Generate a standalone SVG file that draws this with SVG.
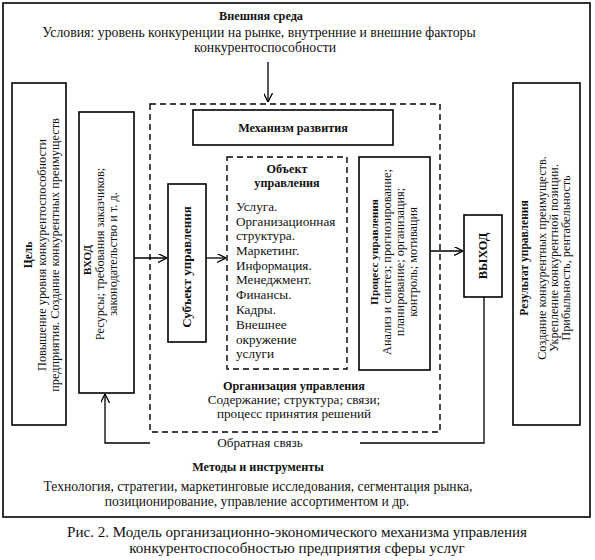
<svg xmlns="http://www.w3.org/2000/svg" width="595" height="560" viewBox="0 0 595 560">
<defs>
<marker id="arr" viewBox="0 0 10 10" refX="10" refY="5" markerWidth="9" markerHeight="9" orient="auto" markerUnits="userSpaceOnUse">
<path d="M0,0 L10,5 L0,10" fill="none" stroke="#000" stroke-width="1.4"/>
</marker>
<style>
text{font-family:'Liberation Serif','Times New Roman',serif;font-size:13.2px;fill:#111}
.b{font-weight:bold;font-size:12.2px}
.c{text-anchor:middle}
.box{fill:#fff;stroke:#000;stroke-width:1.6}
.dash{fill:none;stroke:#000;stroke-width:1.4;stroke-dasharray:6,4}
.ln{fill:none;stroke:#000;stroke-width:1.3}
.cap{font-size:15.1px}
.r{font-size:12.3px}
</style>
</defs>
<rect width="595" height="560" fill="#fff"/>
<g id="outer">
<rect x="3" y="3" width="587" height="514" fill="none" stroke="#000" stroke-width="1.6"/>
<text class="b c" x="261" y="20">Внешняя среда</text>
<text class="c" x="259" y="37" style="font-size:13.8px">Условия: уровень конкуренции на рынке, внутренние и внешние факторы</text>
<text class="c" x="265" y="52" style="font-size:13.8px">конкурентоспособности</text>
<text class="b c" x="258" y="471">Методы и инструменты</text>
<text class="c" x="258" y="491" style="font-size:13.6px">Технология, стратегии, маркетинговые исследования, сегментация рынка,</text>
<text class="c" x="257" y="506" style="font-size:13.6px">позиционирование, управление ассортиментом и др.</text>
</g>
<g id="mechanism">
<rect class="dash" x="150" y="104" width="290" height="328"/>
<text class="b c" x="294" y="390">Организация управления</text>
<text class="c" x="294" y="404">Содержание; структура; связи;</text>
<text class="c" x="294" y="418">процесс принятия решений</text>
</g>
<g id="goal">
<rect class="box" x="12" y="83" width="54" height="342"/>
<g transform="translate(0,255) rotate(-90)">
<text class="b c" x="0" y="32" style="font-size:11.5px">Цель</text>
<text class="c r" x="0" y="46">Повышение уровня конкурентоспособности</text>
<text class="c r" x="0" y="59">предприятия. Создание конкурентных преимуществ</text>
</g>
</g>
<g id="input">
<rect class="box" x="79" y="112" width="55" height="281"/>
<g transform="translate(0,254) rotate(-90)">
<text class="b c" x="-6" y="91" style="font-size:11px">ВХОД</text>
<text class="c r" x="0" y="104">Ресурсы; требования заказчиков;</text>
<text class="c r" x="0" y="117">законодательство и т. д.</text>
</g>
</g>
<g id="dev">
<rect class="box" x="193" y="110" width="200" height="35"/>
<text class="b c" x="293" y="132">Механизм развития</text>
</g>
<g id="subject">
<rect class="box" x="168" y="184" width="38" height="158"/>
<text class="b c" transform="translate(191,267) rotate(-90)" style="font-size:13px">Субъект управления</text>
</g>
<g id="object">
<rect class="dash" x="227" y="157" width="120" height="212"/>
<text class="b c" x="287" y="173">Объект</text>
<text class="b c" x="287" y="187">управления</text>
<text x="236" y="211">Услуга.</text>
<text x="236" y="226">Организационная</text>
<text x="236" y="240">структура.</text>
<text x="236" y="255">Маркетинг.</text>
<text x="236" y="270">Информация.</text>
<text x="236" y="284">Менеджмент.</text>
<text x="236" y="299">Финансы.</text>
<text x="236" y="314">Кадры.</text>
<text x="236" y="329">Внешнее</text>
<text x="236" y="344">окружение</text>
<text x="236" y="358">услуги</text>
</g>
<g id="process">
<rect class="box" x="359" y="157" width="71" height="213"/>
<g transform="translate(0,262) rotate(-90)">
<text class="b c" x="10" y="378" style="font-size:11.3px">Процесс управления</text>
<text class="c r" x="0" y="391">Анализ и синтез; прогнозирование;</text>
<text class="c r" x="0" y="404">планирование; организация;</text>
<text class="c r" x="0" y="417">контроль; мотивация</text>
</g>
</g>
<g id="output">
<rect class="box" x="464" y="215" width="38" height="82"/>
<text class="b c" transform="translate(487,256) rotate(-90)" style="font-size:12.5px">ВЫХОД</text>
</g>
<g id="result">
<rect class="box" x="513" y="83" width="67" height="342"/>
<g transform="translate(0,258) rotate(-90)">
<text class="b c" x="0" y="528" style="font-size:11.5px">Результат управления</text>
<text class="c r" x="0" y="546">Создание конкурентных преимуществ.</text>
<text class="c r" x="0" y="558">Укрепление конкурентной позиции.</text>
<text class="c r" x="0" y="570">Прибыльность, рентабельность</text>
</g>
</g>
<g id="connectors">
<line class="ln" x1="268" y1="62" x2="268" y2="102" marker-end="url(#arr)"/>
<line class="ln" x1="134" y1="258" x2="167" y2="258" marker-end="url(#arr)"/>
<line class="ln" x1="206" y1="258" x2="226" y2="258" marker-end="url(#arr)"/>
<line class="ln" x1="430" y1="251" x2="463" y2="251" marker-end="url(#arr)"/>
<polyline class="ln" points="484,297 484,443 360,443"/>
<polyline class="ln" points="150,443 105,443 105,394" marker-end="url(#arr)"/>
<text class="c" x="260" y="447">Обратная связь</text>
</g>
<g id="caption">
<text class="c cap" x="297" y="537">Рис. 2. Модель организационно-экономического механизма управления</text>
<text class="c cap" x="297" y="553">конкурентоспособностью предприятия сферы услуг</text>
</g>
</svg>
